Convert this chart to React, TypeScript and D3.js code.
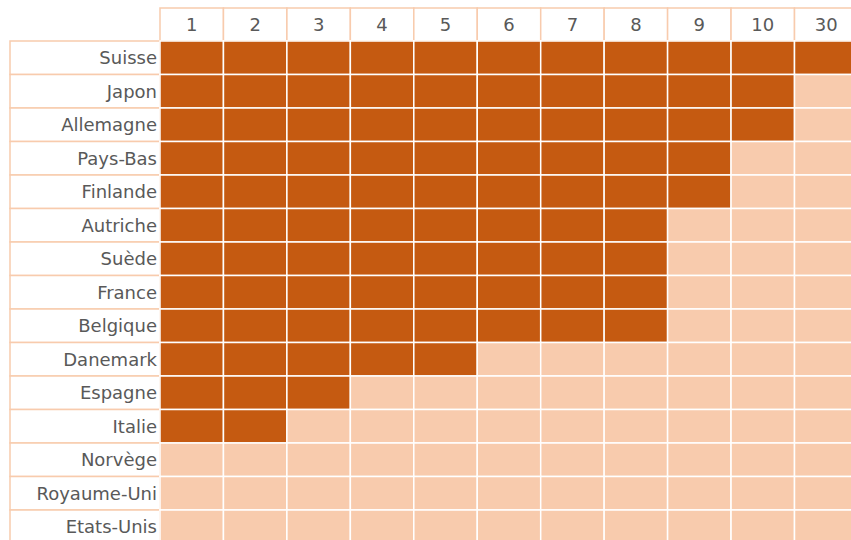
import React from "react";
import * as d3 from "d3";

const countries = [
  "Suisse", "Japon", "Allemagne", "Pays-Bas", "Finlande", "Autriche", "Suède",
  "France", "Belgique", "Danemark", "Espagne", "Italie", "Norvège", "Royaume-Uni", "Etats-Unis",
];
const columns = ["1", "2", "3", "4", "5", "6", "7", "8", "9", "10", "30"];
// number of filled columns per country
const filled = [11, 10, 10, 9, 9, 8, 8, 8, 8, 5, 3, 2, 0, 0, 0];

const width = 851;
const height = 540;
const margin = { top: 41, left: 160, labelLeft: 10, headTop: 8 };
const dark = "#c55a11";
const light = "#f8cbad";
const border = "#f8cbad";
const textColor = "#595959";
const font = "'DejaVu Sans', sans-serif";

export default function App() {
  const x = d3.scaleBand<string>().domain(columns).range([margin.left, margin.left + 11 * 63.45]);
  const y = d3.scaleBand<string>().domain(countries).range([margin.top, margin.top + 15 * 33.5]);
  const bw = x.bandwidth();
  const bh = y.bandwidth();

  return (
    <svg width={width} height={height} style={{ position: "absolute", left: 0, top: 0, background: "#fff" }}>
      {/* header cells */}
      {columns.map((c) => (
        <g key={"h" + c}>
          <rect x={x(c)!} y={margin.headTop} width={bw} height={margin.top - margin.headTop}
            fill="#fff" stroke={border} strokeWidth={1.5} />
          <text x={x(c)! + bw / 2} y={(margin.headTop + margin.top) / 2 + 1.5} textAnchor="middle"
            dominantBaseline="middle" fontFamily={font} fontSize={18} fill={textColor}>{c}</text>
        </g>
      ))}
      {/* row labels */}
      {countries.map((name) => (
        <g key={"l" + name}>
          <rect x={margin.labelLeft} y={y(name)!} width={margin.left - margin.labelLeft} height={bh}
            fill="#fff" stroke={border} strokeWidth={1.5} />
          <text x={margin.left - 3} y={y(name)! + bh / 2 + 1.5} textAnchor="end" dominantBaseline="middle"
            fontFamily={font} fontSize={18} fill={textColor}>{name}</text>
        </g>
      ))}
      {/* cells */}
      {countries.map((name, i) =>
        columns.map((c, j) => (
          <rect key={name + c} x={x(c)!} y={y(name)!} width={bw} height={bh}
            fill={j < filled[i] ? dark : light} stroke="#fff" strokeWidth={1.5} />
        ))
      )}
    </svg>
  );
}
